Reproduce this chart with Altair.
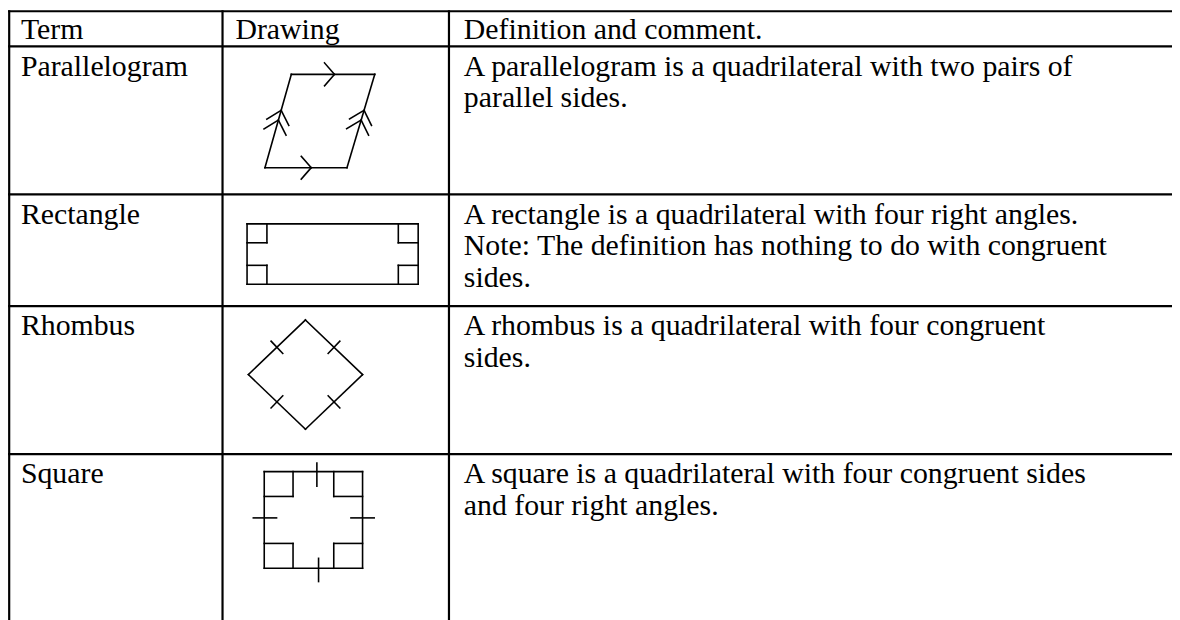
import math
import altair as alt
import pandas as pd

# ---------------- table structure (reference pixel units) ----------------
ROW_LINES_Y = [7.5, 44.5, 193.5, 306.0, 455.0]
COL_LINES_X = [5.0, 224.0, 452.0]
TABLE_RIGHT = 1190.0
TABLE_BOTTOM = 630.0

HEADERS = ["Term", "Drawing", "Definition and comment."]
TERMS = ["Parallelogram", "Rectangle", "Rhombus", "Square"]
DEFINITIONS = [
    ["A parallelogram is a quadrilateral with two pairs of", "parallel sides."],
    ["A rectangle is a quadrilateral with four right angles.",
     "Note: The definition has nothing to do with congruent",
     "sides."],
    ["A rhombus is a quadrilateral with four congruent", "sides."],
    ["A square is a quadrilateral with four congruent sides",
     "and four right angles."],
]
TEXT_X = [21.0, 237.0, 467.0]
BASELINE_OFFSET = 29.5
LINE_STEP = 32.0
FONT_SIZE = 30
FONT = "'Liberation Serif', 'Times New Roman', Times, serif"

# ---------------- drawings ----------------
PARALLELOGRAM = [(293.3, 72.7), (377.3, 72.7), (349.3, 166.7), (266.7, 166.7)]
TOP_ARROW_FRAC = 0.517
BOTTOM_ARROW_FRAC = 0.564
SIDE_ARROW_FRACS = [0.51, 0.615]
H_ARROW = (10.0, 11.5)   # back length, half spread
S_ARROW = (12.5, 11.5)

RECT = dict(left=248.7, right=421.0, top=223.3, bottom=284.0)
RECT_CORNER = (20.0, 19.0)

RHOMBUS_CENTER = (307.5, 375.0)
RHOMBUS_HALF = (57.5, 55.0)
RHOMBUS_TICK = 8.5

SQUARE = dict(left=266.0, right=365.0, top=472.7, bottom=570.0)
SQUARE_CORNER = (29.0, 25.0)
SQUARE_TICKS = [(319.0, 475.7, "v"), (320.7, 571.7, "v"),
                (266.7, 519.3, "h"), (365.0, 519.3, "h")]
SQUARE_TICK_HALF = 11.7

# page margin of the viewer: outer borders are nudged just inside it
PAGE_MARGIN = 8
VISIBLE_MIN = 9.2

# ---------------- build segments ----------------
table_segs = []
draw_segs = []


def seg(lst, x1, y1, x2, y2):
    lst.append({"x": x1, "y": y1, "x2": x2, "y2": y2})


row_y = [max(v, VISIBLE_MIN) for v in ROW_LINES_Y]
col_x = [max(v, VISIBLE_MIN) for v in COL_LINES_X]
for yy in row_y:
    seg(table_segs, col_x[0], yy, TABLE_RIGHT, yy)
for xx in col_x:
    seg(table_segs, xx, row_y[0], xx, TABLE_BOTTOM)


def polygon(pts):
    for i in range(len(pts)):
        a = pts[i]
        b = pts[(i + 1) % len(pts)]
        seg(draw_segs, a[0], a[1], b[0], b[1])


def chevron(tx, ty, ux, uy, size):
    back, spread = size
    nx, ny = -uy, ux
    bx, by = tx - back * ux, ty - back * uy
    seg(draw_segs, bx + spread * nx, by + spread * ny, tx, ty)
    seg(draw_segs, bx - spread * nx, by - spread * ny, tx, ty)


def along(p, q, f):
    dx, dy = q[0] - p[0], q[1] - p[1]
    L = math.hypot(dx, dy)
    return p[0] + f * dx, p[1] + f * dy, dx / L, dy / L


# parallelogram
polygon(PARALLELOGRAM)
tl, tr, br, bl = PARALLELOGRAM
x0, y0, ux, uy = along(tl, tr, TOP_ARROW_FRAC)
chevron(x0, y0, ux, uy, H_ARROW)
x0, y0, ux, uy = along(bl, br, BOTTOM_ARROW_FRAC)
chevron(x0, y0, ux, uy, H_ARROW)
for f in SIDE_ARROW_FRACS:
    x0, y0, ux, uy = along(bl, tl, f)
    chevron(x0, y0, ux, uy, S_ARROW)
    x0, y0, ux, uy = along(br, tr, f)
    chevron(x0, y0, ux, uy, S_ARROW)

# rectangle with right-angle marks
polygon([(RECT["left"], RECT["top"]), (RECT["right"], RECT["top"]),
         (RECT["right"], RECT["bottom"]), (RECT["left"], RECT["bottom"])])


def corner_marks(box, size):
    w, h = size
    for cx, sx in ((box["left"], 1), (box["right"], -1)):
        for cy, sy in ((box["top"], 1), (box["bottom"], -1)):
            seg(draw_segs, cx + sx * w, cy, cx + sx * w, cy + sy * h)
            seg(draw_segs, cx, cy + sy * h, cx + sx * w, cy + sy * h)


corner_marks(RECT, RECT_CORNER)

# rhombus with congruence ticks
cx, cy = RHOMBUS_CENTER
hw, hh = RHOMBUS_HALF
rh = [(cx, cy - hh), (cx + hw, cy), (cx, cy + hh), (cx - hw, cy)]
polygon(rh)
for i in range(4):
    a, b = rh[i], rh[(i + 1) % 4]
    mx, my, ux, uy = along(a, b, 0.5)
    nx, ny = -uy, ux
    seg(draw_segs, mx - RHOMBUS_TICK * nx, my - RHOMBUS_TICK * ny,
        mx + RHOMBUS_TICK * nx, my + RHOMBUS_TICK * ny)

# square
polygon([(SQUARE["left"], SQUARE["top"]), (SQUARE["right"], SQUARE["top"]),
         (SQUARE["right"], SQUARE["bottom"]), (SQUARE["left"], SQUARE["bottom"])])
corner_marks(SQUARE, SQUARE_CORNER)
for tx, ty, o in SQUARE_TICKS:
    if o == "v":
        seg(draw_segs, tx, ty - SQUARE_TICK_HALF, tx, ty + SQUARE_TICK_HALF)
    else:
        seg(draw_segs, tx - SQUARE_TICK_HALF, ty, tx + SQUARE_TICK_HALF, ty)

# ---------------- texts ----------------
texts = []
for j, h in enumerate(HEADERS):
    texts.append({"x": TEXT_X[j], "y": ROW_LINES_Y[0] + BASELINE_OFFSET, "text": h})
for i, term in enumerate(TERMS):
    top = ROW_LINES_Y[i + 1]
    texts.append({"x": TEXT_X[0], "y": top + BASELINE_OFFSET, "text": term})
    for k, line in enumerate(DEFINITIONS[i]):
        texts.append({"x": TEXT_X[2], "y": top + BASELINE_OFFSET + k * LINE_STEP,
                      "text": line})

# ---------------- chart ----------------
W, H = 1180 - PAGE_MARGIN, 620 - PAGE_MARGIN
xs = alt.Scale(domain=[PAGE_MARGIN, PAGE_MARGIN + W], nice=False, zero=False)
ys = alt.Scale(domain=[PAGE_MARGIN, PAGE_MARGIN + H], nice=False, zero=False, reverse=True)


def rules(df, width):
    return alt.Chart(pd.DataFrame(df)).mark_rule(
        color="black", strokeWidth=width, strokeCap="square"
    ).encode(
        x=alt.X("x:Q", scale=xs, axis=None),
        y=alt.Y("y:Q", scale=ys, axis=None),
        x2="x2:Q",
        y2="y2:Q",
    )


table_layer = rules(table_segs, 2.2)
draw_layer = rules(draw_segs, 1.6)

text_layer = alt.Chart(pd.DataFrame(texts)).mark_text(
    align="left", baseline="alphabetic", font=FONT,
    fontSize=FONT_SIZE, color="black"
).encode(
    x=alt.X("x:Q", scale=xs, axis=None),
    y=alt.Y("y:Q", scale=ys, axis=None),
    text="text:N",
)

chart = alt.layer(table_layer, draw_layer, text_layer).properties(
    width=W, height=H, padding=0, autosize=alt.AutoSizeParams(type="none"),
    background="white",
).configure_view(strokeWidth=0)

chart.save("out.html", embed_options={"renderer": "svg", "actions": False})
